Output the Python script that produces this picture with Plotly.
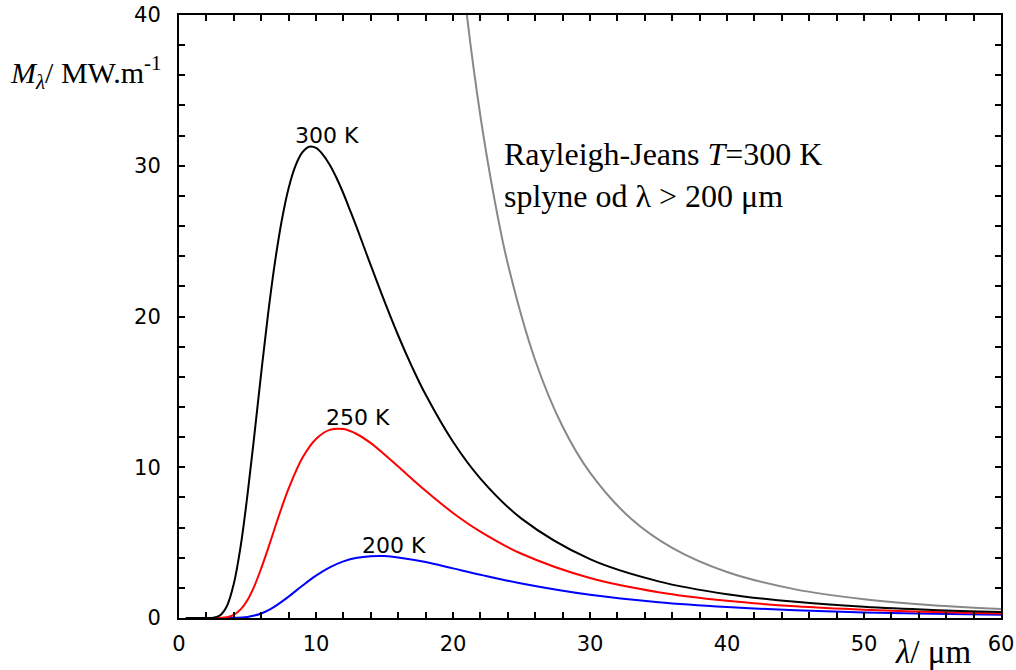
import plotly.graph_objects as go

# Wavelength (um) and spectral exitance (MW m^-3)
lam300 = [0.5, 2, 2.5, 3, 3.5, 4, 4.5, 5, 5.5, 6, 6.5, 7, 7.5, 8, 8.5, 9, 9.5, 10, 10.5, 11, 11.5, 12, 12.5, 13, 13.5, 14, 15, 16, 17, 18, 20, 22, 25, 30, 35, 40, 45, 50, 55, 60]
m300 = [0, 0, 0.02, 0.18, 0.80, 2.27, 4.76, 8.18, 12.13, 16.25, 20.16, 23.57, 26.37, 28.51, 29.99, 30.88, 31.26, 31.18, 30.74, 30.07, 29.19, 28.16, 27.01, 25.84, 24.61, 23.39, 21.00, 18.74, 16.68, 14.82, 11.69, 9.25, 6.59, 3.90, 2.43, 1.58, 1.07, 0.74, 0.53, 0.39]

lam250 = [0.5, 2, 3, 3.5, 4, 4.5, 5, 5.5, 6, 6.5, 7, 7.5, 8, 9, 10, 11, 12, 13, 14, 15, 16, 18, 20, 22, 25, 30, 35, 40, 45, 50, 55, 60]
m250 = [0, 0, 0.01, 0.05, 0.21, 0.57, 1.20, 2.12, 3.29, 4.60, 5.99, 7.34, 8.58, 10.61, 11.88, 12.48, 12.53, 12.19, 11.60, 10.85, 10.05, 8.44, 6.97, 5.73, 4.26, 2.65, 1.71, 1.14, 0.78, 0.55, 0.40, 0.30]

lam200 = [0.5, 2, 3, 4, 5, 5.5, 6, 6.5, 7, 8, 9, 10, 11, 12, 13, 14, 15, 16, 18, 20, 22, 25, 30, 35, 40, 45, 50, 55, 60]
m200 = [0, 0, 0, 0.01, 0.07, 0.16, 0.30, 0.50, 0.77, 1.42, 2.14, 2.81, 3.36, 3.76, 4.00, 4.10, 4.11, 4.02, 3.71, 3.29, 2.87, 2.29, 1.54, 1.05, 0.73, 0.51, 0.37, 0.28, 0.21]

lamRJ = [20, 21, 22, 23, 24, 26, 28, 30, 33, 36, 40, 45, 50, 55, 60]
mRJ = [48.8, 40.1, 33.3, 27.9, 23.5, 17.1, 12.7, 9.64, 6.58, 4.65, 3.05, 1.90, 1.25, 0.85, 0.60]

x_ticks = [0, 10, 20, 30, 40, 50, 60]
y_ticks = [0, 10, 20, 30, 40]

fig = go.Figure()
fig.add_trace(go.Scatter(x=lamRJ, y=mRJ, mode="lines", line=dict(color="#888888", width=2, shape="spline")))
fig.add_trace(go.Scatter(x=lam200, y=m200, mode="lines", line=dict(color="#0000ff", width=2, shape="spline")))
fig.add_trace(go.Scatter(x=lam250, y=m250, mode="lines", line=dict(color="#ff0000", width=2, shape="spline")))
fig.add_trace(go.Scatter(x=lam300, y=m300, mode="lines", line=dict(color="#000000", width=2, shape="spline")))

tickfont = dict(family="DejaVu Sans", size=21, color="black")
serif = "Liberation Serif"

fig.update_xaxes(range=[0, 60], tickvals=x_ticks, ticks="inside", ticklen=6, tickwidth=2,
                 tickcolor="black", showline=True, linecolor="black", linewidth=2, mirror="ticks",
                 showgrid=False, zeroline=False, tickfont=tickfont, ticklabelstandoff=6,
                 automargin=False,
                 minor=dict(dtick=2, ticks="inside", ticklen=6, tickwidth=2, tickcolor="black", showgrid=False))
fig.update_yaxes(range=[0, 40], tickvals=y_ticks, ticks="inside", ticklen=6, tickwidth=2,
                 tickcolor="black", showline=True, linecolor="black", linewidth=2, mirror="ticks",
                 showgrid=False, zeroline=False, tickfont=tickfont, ticklabelstandoff=12,
                 automargin=False,
                 minor=dict(dtick=2, ticks="inside", ticklen=6, tickwidth=2, tickcolor="black", showgrid=False))

lab = dict(family="DejaVu Sans", size=22, color="black")
fig.add_annotation(x=10.8, y=32.0, text="300 K", showarrow=False, font=lab)
fig.add_annotation(x=13.1, y=13.3, text="250 K", showarrow=False, font=lab)
fig.add_annotation(x=15.7, y=4.84, text="200 K", showarrow=False, font=lab)

fig.add_annotation(x=23.6, y=29.4, xanchor="left", yanchor="middle", align="left", showarrow=False,
                   text="Rayleigh-Jeans <i>T</i>=300 K<br>splyne od λ > 200 μm",
                   font=dict(family=serif, size=32, color="black"))

fig.add_annotation(xref="paper", yref="paper", x=-0.208, y=0.905, xanchor="left", yanchor="middle",
                   showarrow=False, text="<i>M</i><sub><i>λ</i></sub>/ MW.m<sup>-1</sup>",
                   font=dict(family=serif, size=30, color="black"))
fig.add_annotation(xref="paper", yref="paper", x=0.869, y=-0.057, xanchor="left", yanchor="middle",
                   showarrow=False, text="<i>λ</i>/ μm",
                   font=dict(family=serif, size=33, color="black"))

fig.update_layout(width=1016, height=670, showlegend=False,
                  margin=dict(l=179, r=15, t=15, b=52, autoexpand=False),
                  paper_bgcolor="white", plot_bgcolor="white")

fig.write_html("out.html", config={"displayModeBar": False},
               post_script="document.body.style.margin='0';")
